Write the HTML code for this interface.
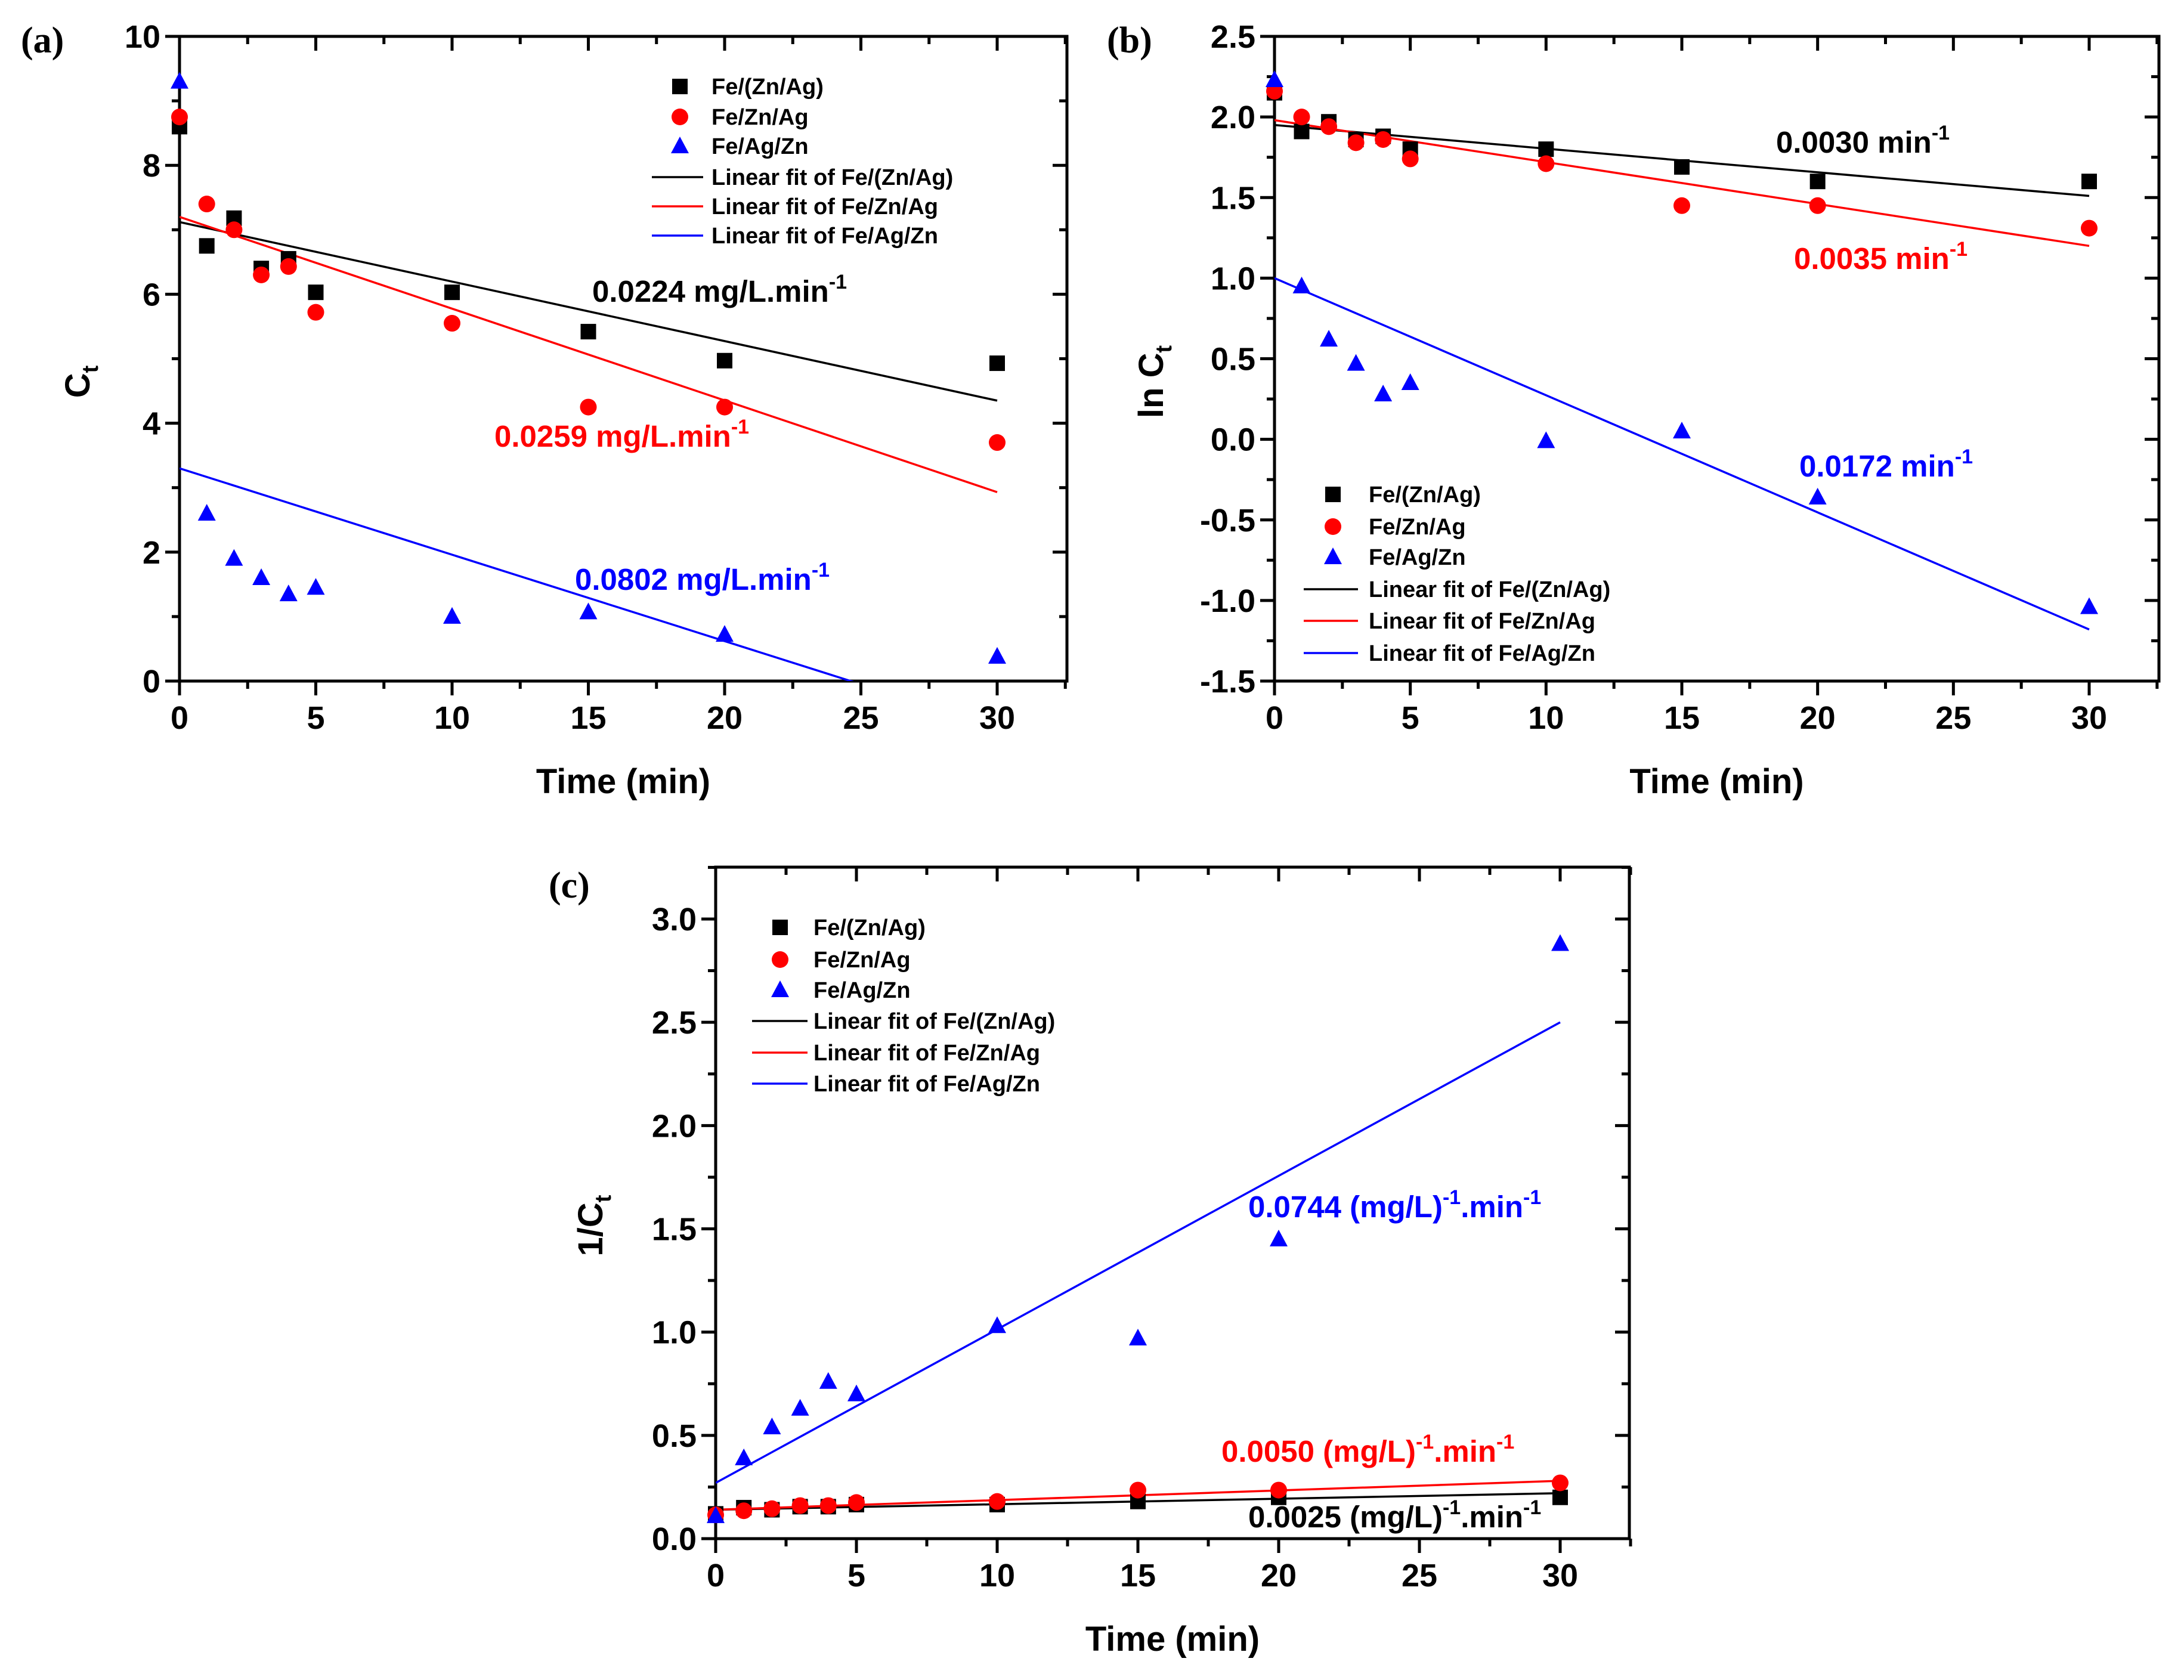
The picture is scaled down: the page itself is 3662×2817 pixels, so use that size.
<!DOCTYPE html>
<html><head><meta charset="utf-8"><style>
html,body{margin:0;padding:0;background:#fff;}
svg{display:block;font-family:"Liberation Sans",Arial,sans-serif;}
</style></head><body>
<svg id="fig" width="3662" height="2817" viewBox="0 0 3662 2817" xmlns="http://www.w3.org/2000/svg"></svg>
<script>
const times = [0,1,2,3,4,5,10,15,20,30];
const aBlack = [8.6,6.75,7.18,6.4,6.55,6.03,6.03,5.42,4.97,4.93];
const aRed = [8.75,7.4,7.0,6.3,6.43,5.72,5.55,4.25,4.25,3.7];
const aBlue = [9.3,2.6,1.9,1.6,1.35,1.45,1.0,1.07,0.72,0.38];
const aFitBlack = [7.12,4.35];
const aFitRed = [7.2,2.93];
const aFitBlue = [3.3,-0.72];
const bBlack = [2.15,1.91,1.97,1.86,1.88,1.80,1.80,1.69,1.60,1.60];
const bRed = [2.16,2.0,1.94,1.84,1.86,1.74,1.71,1.45,1.45,1.31];
const bBlue = [2.23,0.95,0.62,0.47,0.28,0.35,-0.01,0.05,-0.36,-1.04];
const bFitBlack = [1.95,1.51];
const bFitRed = [1.98,1.20];
const bFitBlue = [1.0,-1.18];
const cBlack = [0.12,0.15,0.14,0.155,0.155,0.165,0.165,0.18,0.20,0.20];
const cRed = [0.115,0.135,0.145,0.16,0.16,0.175,0.18,0.235,0.235,0.27];
const cBlue = [0.11,0.39,0.54,0.63,0.76,0.70,1.03,0.97,1.45,2.88];
const cFitBlack = [0.14,0.22];
const cFitRed = [0.14,0.28];
const cFitBlue = [0.27,2.50];
const xTicks = [0,5,10,15,20,25,30];
const aYTicks = [0,2,4,6,8,10];
const bYTicks = [-1.5,-1.0,-0.5,0.0,0.5,1.0,1.5,2.0,2.5];
const cYTicks = [0.0,0.5,1.0,1.5,2.0,2.5,3.0];
const fitX = [0,30];
const legendNames = ["Fe/(Zn/Ag)","Fe/Zn/Ag","Fe/Ag/Zn"];

const NS="http://www.w3.org/2000/svg";
const svg=document.getElementById('fig');
function mk(tag,attrs,parent){const e=document.createElementNS(NS,tag);for(const k in attrs)e.setAttribute(k,attrs[k]);(parent||svg).appendChild(e);return e;}
const COL={black:"#000",red:"#f00",blue:"#00f"};

function marker(g,kind,x,y,name){
  let e;
  if(kind==='black'){e=mk('rect',{x:x-13,y:y-13,width:26,height:26,fill:'#000'},g);}
  else if(kind==='red'){e=mk('circle',{cx:x,cy:y,r:14,fill:'#f00'},g);}
  else {e=mk('polygon',{points:`${x},${y-16} ${x+15},${y+12} ${x-15},${y+12}`,fill:'#00f'},g);}
  
  
  return e;
}

function panel(p){
  const g=mk('g',{});
  
  
  const sx=v=>p.x0+(v)*(p.x30-p.x0)/30;
  const sy=v=>p.yB+(v-p.yMin)*(p.yT-p.yB)/(p.yMax-p.yMin);
  const L=p.x0, R=p.right, T=p.top, B=p.yB;
  const clip=mk('clipPath',{id:'clip-'+p.id},g);
  mk('rect',{x:L,y:T,width:R-L,height:B-T},clip);
  const ax=mk('g',{stroke:'#000','stroke-width':5},g);
  
  
  for(let v=0;v<=32.5;v+=2.5){const x=sx(v);const maj=(v%5===0);const len=maj?24:13;
    mk('line',{x1:x,y1:B,x2:x,y2:B+len},ax);mk('line',{x1:x,y1:T,x2:x,y2:T+len},ax);}
  const st=p.minor;
  for(let v=p.yMin;v<=p.yMaxTick+1e-9;v+=st){const y=sy(v);const maj=Math.abs(Math.round(v/p.major)*p.major-v)<1e-6;const len=maj?24:13;
    mk('line',{x1:L,y1:y,x2:L-len,y2:y},ax);mk('line',{x1:R,y1:y,x2:R-len,y2:y},ax);}
  mk('rect',{x:L,y:T,width:R-L,height:B-T,fill:'none'},ax);
  xTicks.forEach(v=>{const t=mk('text',{x:sx(v),y:B+80,'font-size':54,'font-weight':'bold','text-anchor':'middle'},g);t.textContent=v;
    });
  p.yTicks.forEach(v=>{const t=mk('text',{x:L-32,y:sy(v)+19,'font-size':54,'font-weight':'bold','text-anchor':'end'},g);t.textContent=p.fmt(v);
    });
  const xt=mk('text',{x:(L+R)/2,y:B+188,'font-size':58,'font-weight':'bold','text-anchor':'middle'},g);xt.textContent='Time (min)';
  
  const yt=mk('text',{x:0,y:0,'font-size':58,'font-weight':'bold','text-anchor':'middle',transform:`translate(${p.ytx},${p.yty}) rotate(-90)`},g);
  yt.innerHTML=p.ytitle;
  
  const pl=mk('text',{x:p.plx,y:p.ply,'font-size':62,'font-weight':'bold','font-family':'"Liberation Serif",serif'},g);pl.textContent=p.label;
  
  const cg=mk('g',{'clip-path':`url(#clip-${p.id})`},g);
  ['black','red','blue'].forEach((c,i)=>{const f=p.fits[i];
    const l=mk('line',{x1:sx(fitX[0]),y1:sy(f[0]),x2:sx(fitX[1]),y2:sy(f[1]),stroke:COL[c],'stroke-width':3.5},cg);
    });
  ['black','red','blue'].forEach((c,i)=>{p.series[i].forEach((v,j)=>marker(g,c,sx(times[j]),sy(v),'point-'+c));});
  const lg=mk('g',{},g);
  const kinds=['black','red','blue'];
  for(let i=0;i<6;i++){const y=p.leg.rows[i];
    if(i<3){marker(lg,kinds[i],p.leg.mx,y,'legend-marker');}
    else{const l=mk('line',{x1:p.leg.l1,y1:y,x2:p.leg.l2,y2:y,stroke:COL[kinds[i-3]],'stroke-width':3.5},lg);
      }
    const t=mk('text',{x:p.leg.tx,y:y+13,'font-size':38,'font-weight':'bold'},lg);
    t.textContent=i<3?legendNames[i]:'Linear fit of '+legendNames[i-3];
    }
  p.ann.forEach(a=>{const t=mk('text',{x:a.x,y:a.y,'font-size':51,'font-weight':'bold',fill:COL[a.c]},g);t.innerHTML=a.t;
    });
}
const sup='<tspan dy="-22" font-size="34">-1</tspan>';
panel({id:'a',x0:301,x30:1672,right:1789,top:61,yB:1142,yT:61,yMin:0,yMax:10,yMaxTick:10,major:2,minor:1,yTicks:aYTicks,fmt:v=>String(v),
  ytitle:'C<tspan dy="14" font-size="38">t</tspan>',ytx:150,yty:640,label:'(a)',plx:35,ply:88,
  fits:[aFitBlack,aFitRed,aFitBlue],series:[aBlack,aRed,aBlue],
  leg:{mx:1140,rows:[145,196,245,297,346,395],l1:1093,l2:1179,tx:1193},
  ann:[{x:993,y:506,c:'black',t:'0.0224 mg/L.min'+sup},{x:829,y:749,c:'red',t:'0.0259 mg/L.min'+sup},{x:964,y:989,c:'blue',t:'0.0802 mg/L.min'+sup}]});
panel({id:'b',x0:2137,x30:3503,right:3620,top:61,yB:1142,yT:61,yMin:-1.5,yMax:2.5,yMaxTick:2.5,major:0.5,minor:0.25,yTicks:bYTicks,fmt:v=>v.toFixed(1),
  ytitle:'ln C<tspan dy="14" font-size="38">t</tspan>',ytx:1950,yty:640,label:'(b)',plx:1856,ply:88,
  fits:[bFitBlack,bFitRed,bFitBlue],series:[bBlack,bRed,bBlue],
  leg:{mx:2235,rows:[829,883,934,988,1041,1095],l1:2186,l2:2277,tx:2295},
  ann:[{x:2978,y:256,c:'black',t:'0.0030 min'+sup},{x:3008,y:451,c:'red',t:'0.0035 min'+sup},{x:3017,y:799,c:'blue',t:'0.0172 min'+sup}]});
panel({id:'c',x0:1200,x30:2616,right:2732,top:1454,yB:2580,yT:1541,yMin:0,yMax:3,yMaxTick:3.25,major:0.5,minor:0.25,yTicks:cYTicks,fmt:v=>v.toFixed(1),
  ytitle:'1/C<tspan dy="14" font-size="38">t</tspan>',ytx:1010,yty:2055,label:'(c)',plx:920,ply:1505,
  fits:[cFitBlack,cFitRed,cFitBlue],series:[cBlack,cRed,cBlue],
  leg:{mx:1308,rows:[1555,1609,1660,1712,1765,1817],l1:1261,l2:1354,tx:1364},
  ann:[{x:2093,y:2041,c:'blue',t:'0.0744 (mg/L)'+sup+'<tspan dy="22">.min</tspan>'+sup},{x:2048,y:2451,c:'red',t:'0.0050 (mg/L)'+sup+'<tspan dy="22">.min</tspan>'+sup},{x:2093,y:2561,c:'black',t:'0.0025 (mg/L)'+sup+'<tspan dy="22">.min</tspan>'+sup}]});
</script>
</body></html>
